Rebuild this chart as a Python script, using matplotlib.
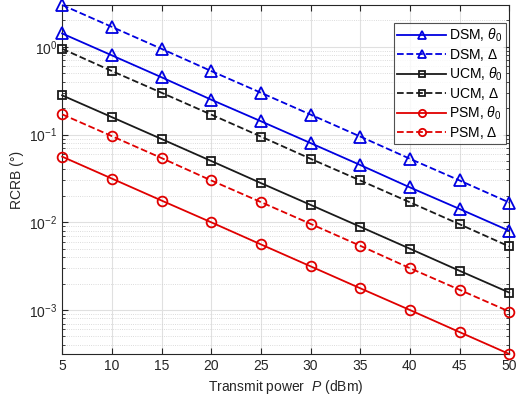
import numpy as np
import matplotlib.pyplot as plt

plt.rcParams['font.family'] = ['Liberation Sans', 'DejaVu Sans']
plt.rcParams['mathtext.fontset'] = 'custom'
plt.rcParams['mathtext.it'] = 'Liberation Sans:italic'
plt.rcParams['mathtext.rm'] = 'Liberation Sans'

P = [5, 10, 15, 20, 25, 30, 35, 40, 45, 50]

dsm_theta = [1.42, 0.80, 0.45, 0.25, 0.142, 0.080, 0.045, 0.025, 0.0142, 0.0080]
dsm_delta = [3.0, 1.69, 0.95, 0.53, 0.30, 0.169, 0.095, 0.053, 0.030, 0.0168]
ucm_theta = [0.28, 0.158, 0.089, 0.050, 0.028, 0.0158, 0.0089, 0.0050, 0.0028, 0.00158]
ucm_delta = [0.95, 0.53, 0.30, 0.169, 0.095, 0.053, 0.030, 0.0169, 0.0095, 0.0053]
psm_theta = [0.056, 0.0315, 0.0177, 0.0100, 0.0056, 0.00315, 0.00177, 0.00100, 0.00056, 0.000315]
psm_delta = [0.17, 0.096, 0.054, 0.030, 0.017, 0.0096, 0.0054, 0.0030, 0.0017, 0.00096]

blue = '#0000e0'
black = '#1a1a1a'
red = '#e00000'

fig = plt.figure(figsize=(5.18, 4.03), dpi=100)
ax = fig.add_axes([0.120, 0.1216, 0.863, 0.866])

series = [
    (dsm_theta, blue, '-', '^', r'DSM, $\theta_0$'),
    (dsm_delta, blue, '--', '^', r'DSM, $\Delta$'),
    (ucm_theta, black, '-', 's', r'UCM, $\theta_0$'),
    (ucm_delta, black, '--', 's', r'UCM, $\Delta$'),
    (psm_theta, red, '-', 'o', r'PSM, $\theta_0$'),
    (psm_delta, red, '--', 'o', r'PSM, $\Delta$'),
]
for vals, c, ls, mk, lab in series:
    ms = 8 if mk == '^' else (6 if mk == 's' else 7)
    ax.semilogy(P, vals, color=c, linestyle=ls, marker=mk, markersize=ms,
                markerfacecolor='none', markeredgewidth=1.3, linewidth=1.3,
                label=lab, clip_on=False, zorder=3)

ax.set_xlim(5, 50)
ax.set_ylim(3.15e-4, 3.0)
ax.set_xticks(range(5, 51, 5))
ax.grid(True, which='major', color='#e0e0e0', linewidth=0.8)
ax.grid(True, which='minor', color='#d0d0d0', linestyle=':', linewidth=0.6)
ax.tick_params(which='both', direction='in', top=True, right=True,
               labelsize=10, colors='#262626')
ax.tick_params(which='major', length=4)
ax.tick_params(which='minor', length=2)
for s in ax.spines.values():
    s.set_color('#262626')
    s.set_linewidth(0.8)

ax.set_xlabel(r'Transmit power  $P$ (dBm)', fontsize=10, color='#262626')
ax.set_ylabel('RCRB (°)', fontsize=10, color='#262626')

leg = ax.legend(loc='upper right', bbox_to_anchor=(0.993, 0.948), fontsize=10,
                frameon=True, fancybox=False, edgecolor='#262626',
                handlelength=3.5, borderpad=0.25, labelspacing=0.2,
                handletextpad=0.2, borderaxespad=0.0, markerscale=0.75,
                numpoints=1)
leg.get_frame().set_linewidth(0.8)
leg.set_zorder(5)

fig.savefig('out.png', dpi=100)
